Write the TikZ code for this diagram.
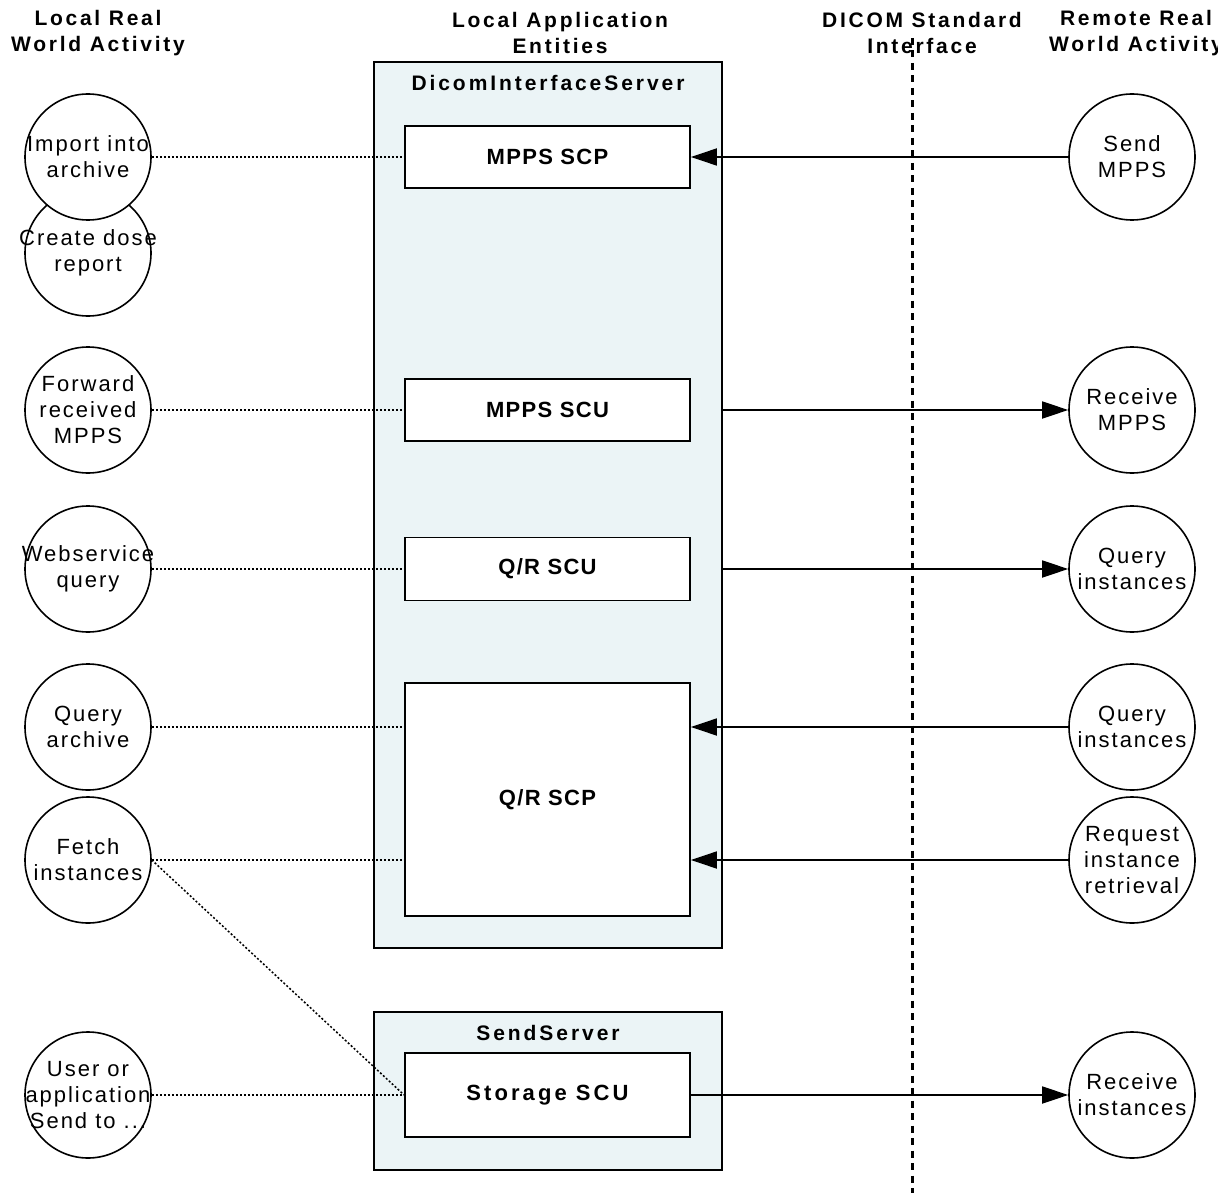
\documentclass[tikz,border=0pt]{standalone}
\usepackage{fontspec}
\setmainfont{Liberation Sans}
\newfontfamily\hdrfont[LetterSpace=13]{Liberation Sans}
\newfontfamily\circfont[LetterSpace=9]{Liberation Sans}
\newfontfamily\boxfont[LetterSpace=6]{Liberation Sans}
\newfontfamily\srvfont[LetterSpace=14]{Liberation Sans}
\usetikzlibrary{arrows.meta}
\definecolor{boxfill}{RGB}{235,244,246}
\begin{document}
\begin{tikzpicture}[x=1pt,y=-1pt,
  hdr/.style={font=\hdrfont\bfseries\fontsize{21}{26}\selectfont, align=center, inner sep=0pt},
  act/.style={circle, draw, fill=white, line width=1.6pt, minimum size=126pt, inner sep=0pt},
  acttext/.style={font=\circfont\fontsize{22}{26}\selectfont, align=center, inner sep=0pt},
  ae/.style={draw, fill=white, line width=1.8pt, minimum width=285pt, inner sep=0pt, font=\boxfont\bfseries\fontsize{22}{26}\selectfont},
  server/.style={draw, fill=boxfill, line width=1.8pt, minimum width=348pt, inner sep=0pt},
  srvtitle/.style={font=\srvfont\bfseries\fontsize{21}{26}\selectfont, inner sep=0pt},
  assoc/.style={line width=1.5pt, dash pattern=on 2pt off 2pt},
  msg/.style={line width=1.8pt, -{Triangle[length=26pt,width=17pt]}},
  iface/.style={line width=3pt, dash pattern=on 7pt off 5.5pt}
]
\useasboundingbox (0,0) rectangle (1218,1193);
\clip (0,0) rectangle (1218,1193);

% headers
\node[hdr] (hLocal) at (98,33) {Local Real\\World Activity};
\node[hdr] (hAE) at (560,33) {Local Application\\Entities};
\node[hdr] (hDicom) at (922,33) {DICOM Standard\\Interface};
\node[hdr] (hRemote) at (1136,33) {Remote Real\\World Activity};

% servers
\node[server, minimum height=886pt] (dis) at (548,505) {};
\node[srvtitle] (disT) at (548,83) {DicomInterfaceServer};
\node[server, minimum height=158pt] (send) at (548,1091) {};
\node[srvtitle] (sendT) at (548,1033) {SendServer};

% application entities
\node[ae, minimum height=62pt] (mppsscp) at (547.5,157) {MPPS SCP};
\node[ae, minimum height=62pt] (mppsscu) at (547.5,410) {MPPS SCU};
\node[ae, minimum height=63pt] (qrscu) at (547.5,569) {Q/R SCU};
\node[ae, minimum height=233pt] (qrscp) at (547.5,799.5) {Q/R SCP};
\node[ae, minimum height=84pt, font=\srvfont\bfseries\fontsize{22}{26}\selectfont] (storage) at (547.5,1095) {Storage SCU};

% interface line
\coordinate (ifTop) at (912,38);
\coordinate (ifBot) at (912,1195);
\draw[iface] (ifTop) -- (ifBot);

% local activities
\node[act] (dose) at (88,253) {};
\node[acttext] at (dose) {Create dose\\report};
\node[act] (import) at (88,157) {};
\node[acttext] at (import) {Import into\\archive};
\node[act] (fwd) at (88,410) {};
\node[acttext] at (fwd) {Forward\\received\\MPPS};
\node[act] (websvc) at (88,569) {};
\node[acttext] at (websvc) {Webservice\\query};
\node[act] (qarch) at (88,727) {};
\node[acttext] at (qarch) {Query\\archive};
\node[act] (fetch) at (88,860) {};
\node[acttext] at (fetch) {Fetch\\instances};
\node[act] (user) at (88,1095) {};
\node[acttext] at (user) {User or\\application\\Send to ...};

% remote activities
\node[act] (sendmpps) at (1132,157) {};
\node[acttext] at (sendmpps) {Send\\MPPS};
\node[act] (rcvmpps) at (1132,410) {};
\node[acttext] at (rcvmpps) {Receive\\MPPS};
\node[act] (qinst1) at (1132,569) {};
\node[acttext] at (qinst1) {Query\\instances};
\node[act] (qinst2) at (1132,727) {};
\node[acttext] at (qinst2) {Query\\instances};
\node[act] (reqret) at (1132,860) {};
\node[acttext] at (reqret) {Request\\instance\\retrieval};
\node[act] (rcvinst) at (1132,1095) {};
\node[acttext] at (rcvinst) {Receive\\instances};

% local associations
\draw[assoc] (import.east) -- (import.east -| mppsscp.west);
\draw[assoc] (fwd.east) -- (fwd.east -| mppsscu.west);
\draw[assoc] (websvc.east) -- (websvc.east -| qrscu.west);
\draw[assoc] (qarch.east) -- (qarch.east -| qrscp.west);
\draw[assoc] (fetch.east) -- (fetch.east -| qrscp.west);
\draw[assoc] (fetch.east) -- (storage.west);
\draw[assoc] (user.east) -- (storage.west);

% DICOM messages
\draw[msg] (sendmpps.west) -- (sendmpps.west -| mppsscp.east);
\draw[msg] (mppsscu.east -| dis.east) -- (rcvmpps.west);
\draw[msg] (qrscu.east -| dis.east) -- (qinst1.west);
\draw[msg] (qinst2.west) -- (qinst2.west -| qrscp.east);
\draw[msg] (reqret.west) -- (reqret.west -| qrscp.east);
\draw[msg] (storage.east) -- (rcvinst.west);
\end{tikzpicture}
\end{document}
